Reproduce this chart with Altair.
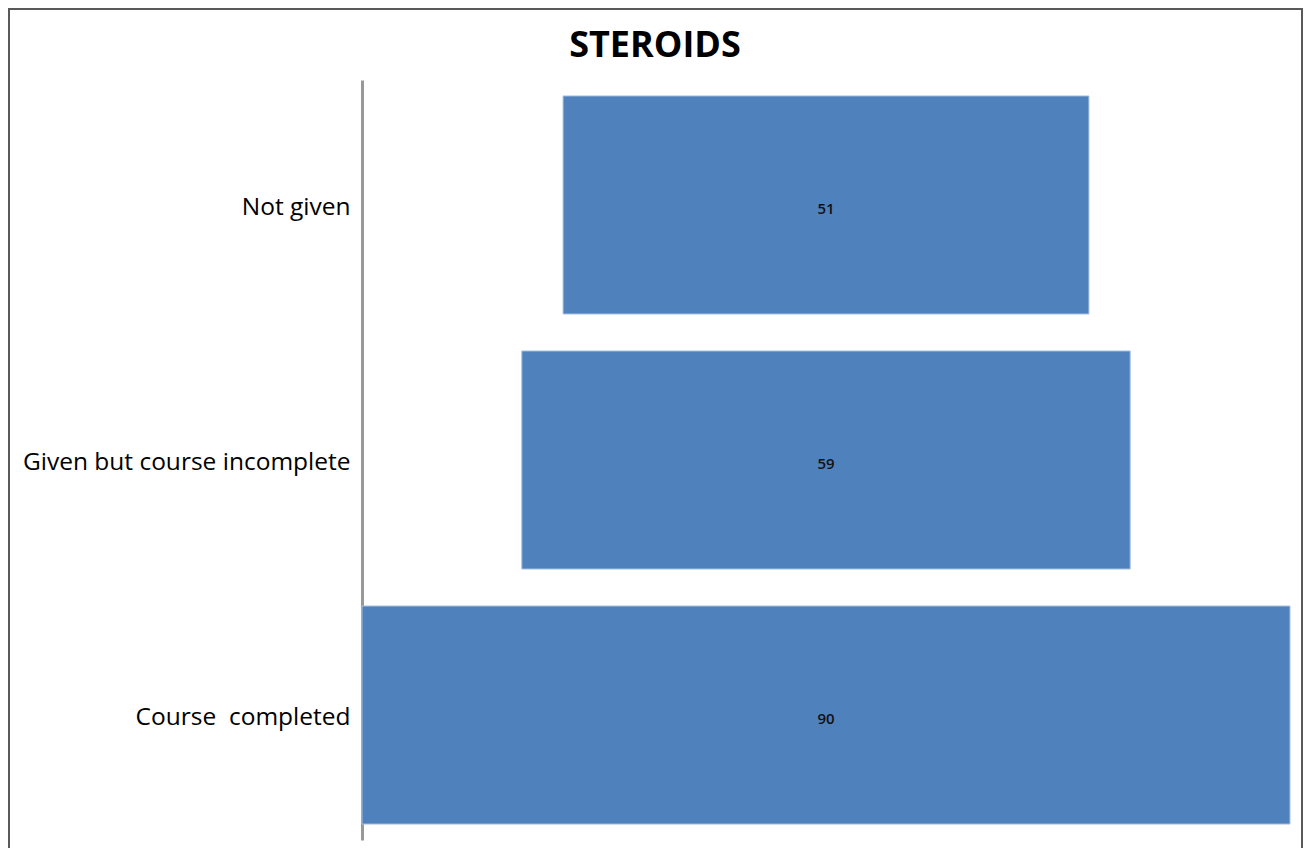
import altair as alt
import pandas as pd

categories = ["Not given", "Given but course incomplete", "Course  completed"]
values = [51, 59, 90]
title_text = "STEROIDS"

df = pd.DataFrame({"category": categories, "value": values})
max_v = max(values)

FONT = "Open Sans"

base = alt.Chart(df).transform_calculate(
    x0=f"({max_v} - datum.value) / 2",
    x1=f"({max_v} + datum.value) / 2",
    xm=f"{max_v} / 2",
)

y_enc = alt.Y(
    "category:N",
    sort=categories,
    title=None,
    scale=alt.Scale(paddingInner=0.145, paddingOuter=0.0625),
    axis=alt.Axis(
        domainColor="#999999",
        domainWidth=3,
        ticks=False,
        labelPadding=12,
        labelFontSize=24.5,
        labelFont=FONT,
        labelColor="#000000",
        labelLimit=400,
        labelOffset=3,
        labelExpr="replace(datum.label, '  ', '\u00a0 ')",
    ),
)

bars = base.mark_bar(color="#4F81BD", stroke="#A9C0E0", strokeWidth=1).encode(
    x=alt.X("x0:Q", scale=alt.Scale(domain=[0, max_v], nice=False, zero=False), axis=None),
    x2="x1:Q",
    y=y_enc,
)

labels = base.mark_text(fontSize=15, font=FONT, color="#111111", fontWeight=600, dy=4).encode(
    x=alt.X("xm:Q"),
    y=alt.Y("category:N", sort=categories),
    text=alt.Text("value:Q"),
)

one = pd.DataFrame({"t": [title_text]})

frame = alt.Chart(one).mark_rect(
    fill=None, stroke="#595959", strokeWidth=2
).encode(
    x=alt.value(-353), x2=alt.value(940), y=alt.value(-71), y2=alt.value(800)
)

title = alt.Chart(one).mark_text(
    font=FONT, fontSize=36, fontWeight="bold", color="#000000",
    align="center", baseline="alphabetic",
).encode(
    x=alt.value(293), y=alt.value(-23), text="t:N"
)

chart = alt.layer(frame, bars, labels, title).properties(
    width=928,
    height=760,
    background="#ffffff",
    autosize=alt.AutoSizeParams(type="none"),
    padding={"left": 362, "top": 80, "right": 14, "bottom": 8},
).configure_view(strokeWidth=0, stroke=None)

chart.save("out.html", embed_options={"renderer": "svg", "actions": False})
